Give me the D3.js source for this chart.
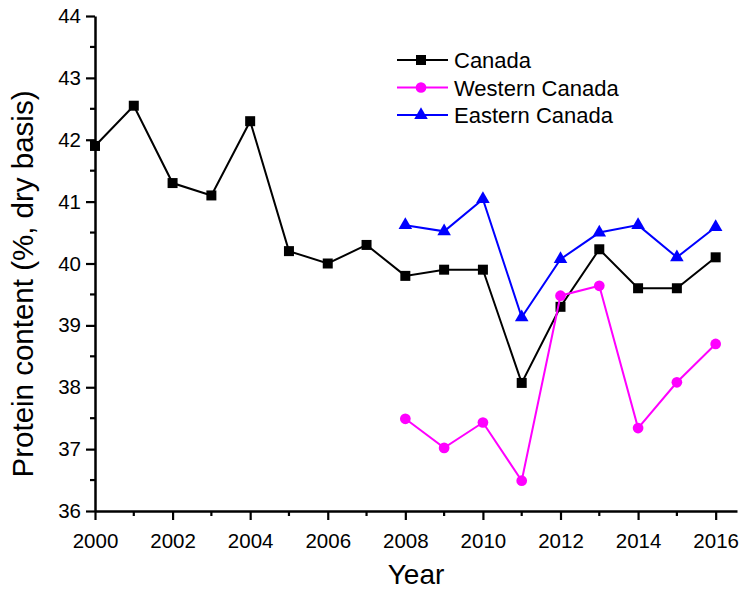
<!DOCTYPE html>
<html><head><meta charset="utf-8">
<script src="https://cdn.jsdelivr.net/npm/d3@7"></script>
<style>body{margin:0;background:#fff}svg{display:block}text{font-family:"Liberation Sans",Arial,sans-serif;fill:#000}</style>
</head><body><svg id="c" width="740" height="591"></svg>
<script>
const yearsAll = [2000,2001,2002,2003,2004,2005,2006,2007,2008,2009,2010,2011,2012,2013,2014,2015,2016];
const yearsRegion = [2008,2009,2010,2011,2012,2013,2014,2015,2016];
const canada = [41.9,42.55,41.3,41.1,42.3,40.2,40.0,40.3,39.8,39.9,39.9,38.07,39.3,40.23,39.6,39.6,40.1];
const western = [37.49,37.02,37.43,36.49,39.48,39.64,37.34,38.08,38.7];
const eastern = [40.62,40.52,41.04,39.13,40.07,40.5,40.62,40.1,40.59];
const xTicks = [2000,2002,2004,2006,2008,2010,2012,2014,2016];
const yTicks = [36,37,38,39,40,41,42,43,44];
const seriesNames = ["Canada","Western Canada","Eastern Canada"];

const svg = d3.select("#c");
const x = d3.scaleLinear().domain([2000,2016.55]).range([95,737]);
const y = d3.scaleLinear().domain([36,44]).range([511,16]);

const xAxis = d3.axisBottom(x).tickValues(xTicks).tickFormat(d3.format("d")).tickSize(9).tickSizeOuter(0).tickPadding(13);
const gx = svg.append("g").attr("transform","translate(0,511)").call(xAxis);
const yAxis = d3.axisLeft(y).tickValues(yTicks).tickSize(9).tickSizeOuter(0).tickPadding(5);
const gy = svg.append("g").attr("transform","translate(95,0)").call(yAxis);
[gx,gy].forEach(g=>{
  g.select(".domain").attr("stroke","#000").attr("stroke-width",2.5);
  g.selectAll(".tick line").attr("stroke","#000").attr("stroke-width",2.2);
  g.selectAll(".tick text").attr("font-size",null).style("font-size","20.5px").style("font-family","Liberation Sans, Arial, sans-serif");
});
const xMinor = d3.range(2001,2017,2);
svg.append("g").selectAll("line").data(xMinor).join("line")
  .attr("x1",d=>x(d)).attr("x2",d=>x(d)).attr("y1",511).attr("y2",516)
  .attr("stroke","#000").attr("stroke-width",2.2);
const yMinor = d3.range(36.5,44,1);
svg.append("g").selectAll("line").data(yMinor).join("line")
  .attr("y1",d=>y(d)).attr("y2",d=>y(d)).attr("x1",95).attr("x2",90)
  .attr("stroke","#000").attr("stroke-width",2.2);

svg.append("text").attr("x",416).attr("y",584).attr("text-anchor","middle").style("font-size","28px").text("Year");
svg.append("text").attr("transform","translate(33,284) rotate(-90)").attr("text-anchor","middle").style("font-size","29.5px").text("Protein content (%, dry basis)");

const line = d3.line().x(d=>x(d[0])).y(d=>y(d[1]));
const sq = d3.symbol().type(d3.symbolSquare).size(100);
const tri = d3.symbol().type(d3.symbolTriangle).size(80);
const circ = d3.symbol().type(d3.symbolCircle).size(90);

const series = [
  {name:seriesNames[0], color:"#000000", data:yearsAll.map((yr,i)=>[yr,canada[i]]), sym:sq},
  {name:seriesNames[1], color:"#ff00ff", data:yearsRegion.map((yr,i)=>[yr,western[i]]), sym:circ},
  {name:seriesNames[2], color:"#0000ff", data:yearsRegion.map((yr,i)=>[yr,eastern[i]]), sym:tri}
];

series.forEach(s=>{
  svg.append("path").datum(s.data).attr("d",line).attr("fill","none").attr("stroke",s.color).attr("stroke-width",2);
  svg.append("g").selectAll("path").data(s.data).join("path")
    .attr("d",s.sym).attr("transform",d=>`translate(${x(d[0])},${y(d[1])})`).attr("fill",s.color);
});

const leg = svg.append("g");
series.forEach((s,i)=>{
  const yy = 60 + i*27.5;
  leg.append("line").attr("x1",397).attr("x2",448).attr("y1",yy).attr("y2",yy).attr("stroke",s.color).attr("stroke-width",2);
  leg.append("path").attr("d",s.sym).attr("transform",`translate(421,${yy})`).attr("fill",s.color);
  leg.append("text").attr("x",454).attr("y",yy+8).style("font-size","22px").text(s.name);
});
</script></body></html>
